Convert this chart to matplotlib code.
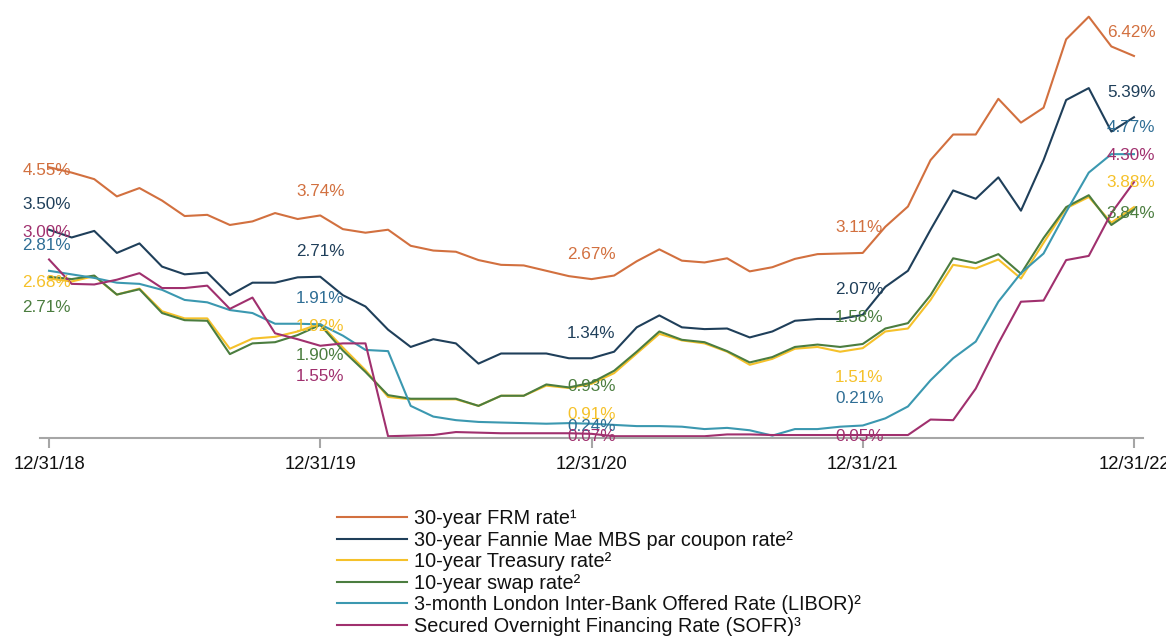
import matplotlib
matplotlib.use("Agg")
import matplotlib.pyplot as plt

plt.rcParams["font.family"] = ["Liberation Sans", "DejaVu Sans"]

# month-end values, 12/31/18 .. 12/31/22 (49 points)
frm = [4.55, 4.46, 4.35, 4.06, 4.20, 3.99, 3.73, 3.75, 3.58, 3.64, 3.78, 3.68, 3.74,
       3.51, 3.45, 3.50, 3.23, 3.15, 3.13, 2.99, 2.91, 2.90, 2.81, 2.72, 2.67,
       2.73, 2.97, 3.17, 2.98, 2.95, 3.02, 2.80, 2.87, 3.01, 3.09, 3.10, 3.11,
       3.55, 3.89, 4.67, 5.10, 5.10, 5.70, 5.30, 5.55, 6.70, 7.08, 6.58, 6.42]
mbs = [3.50, 3.37, 3.48, 3.11, 3.27, 2.88, 2.75, 2.78, 2.40, 2.61, 2.61, 2.70, 2.71,
       2.40, 2.21, 1.82, 1.53, 1.66, 1.59, 1.25, 1.42, 1.42, 1.42, 1.34, 1.34,
       1.45, 1.86, 2.06, 1.86, 1.83, 1.84, 1.69, 1.79, 1.97, 2.00, 2.00, 2.07,
       2.54, 2.81, 3.50, 4.16, 4.02, 4.38, 3.82, 4.67, 5.68, 5.88, 5.15, 5.39]
treasury = [2.68, 2.63, 2.72, 2.41, 2.51, 2.13, 2.01, 2.01, 1.50, 1.67, 1.70, 1.79, 1.92,
            1.52, 1.14, 0.69, 0.65, 0.65, 0.65, 0.54, 0.71, 0.71, 0.88, 0.84, 0.91,
            1.09, 1.42, 1.75, 1.64, 1.59, 1.45, 1.23, 1.33, 1.50, 1.53, 1.45, 1.51,
            1.79, 1.84, 2.32, 2.91, 2.85, 3.00, 2.68, 3.28, 3.86, 4.05, 3.62, 3.88]
swap = [2.71, 2.67, 2.73, 2.41, 2.50, 2.10, 1.98, 1.97, 1.41, 1.59, 1.61, 1.73, 1.90,
        1.47, 1.11, 0.72, 0.66, 0.66, 0.66, 0.54, 0.71, 0.71, 0.90, 0.85, 0.93,
        1.13, 1.45, 1.79, 1.65, 1.61, 1.46, 1.27, 1.36, 1.53, 1.57, 1.53, 1.58,
        1.84, 1.93, 2.40, 3.02, 2.94, 3.09, 2.76, 3.36, 3.88, 4.08, 3.58, 3.84]
libor = [2.81, 2.75, 2.69, 2.61, 2.59, 2.49, 2.32, 2.28, 2.15, 2.10, 1.92, 1.92, 1.91,
         1.72, 1.48, 1.46, 0.54, 0.36, 0.30, 0.27, 0.26, 0.25, 0.24, 0.25, 0.24,
         0.22, 0.20, 0.20, 0.19, 0.15, 0.17, 0.13, 0.04, 0.15, 0.15, 0.19, 0.21,
         0.33, 0.53, 0.97, 1.34, 1.62, 2.29, 2.77, 3.10, 3.80, 4.46, 4.77, 4.77]
sofr = [3.00, 2.59, 2.58, 2.66, 2.77, 2.52, 2.52, 2.56, 2.17, 2.36, 1.76, 1.66, 1.55,
        1.59, 1.59, 0.03, 0.04, 0.05, 0.10, 0.09, 0.08, 0.08, 0.08, 0.08, 0.07,
        0.03, 0.03, 0.03, 0.03, 0.03, 0.06, 0.06, 0.05, 0.05, 0.05, 0.05, 0.05,
        0.05, 0.05, 0.31, 0.30, 0.83, 1.59, 2.29, 2.31, 2.99, 3.06, 3.78, 4.30]

tick_labels = ["12/31/18", "12/31/19", "12/31/20", "12/31/21", "12/31/22"]
legend_labels = ["30-year FRM rate\u00b9",
                 "30-year Fannie Mae MBS par coupon rate\u00b2",
                 "10-year Treasury rate\u00b2",
                 "10-year swap rate\u00b2",
                 "3-month London Inter-Bank Offered Rate (LIBOR)\u00b2",
                 "Secured Overnight Financing Rate (SOFR)\u00b3"]

series = [frm, mbs, treasury, swap, libor, sofr]
line_colors = ["#d2703f", "#1f3f5a", "#f5c12a", "#4b7d3f", "#3b98b0", "#a0306e"]
text_colors = ["#d2703f", "#1f3f5a", "#f5c12a", "#4b7d3f", "#2f6e95", "#a0306e"]

# annotated points (month index) and where each label sits (y in % units)
label_idx = [0, 12, 24, 36, 48]
label_y = {
    0:  [4.49, 3.92, 2.61, 2.20, 3.23, 3.46],
    12: [4.15, 3.13, 1.87, 1.38, 2.35, 1.03],
    24: [3.09, 1.76, 0.40, 0.86, 0.20, 0.02],
    36: [3.53, 2.50, 1.01, 2.02, 0.66, 0.02],
    48: [6.82, 5.80, 4.30, 3.78, 5.21, 4.74],
}
label_x = {0: 0.97, 12: 12, 24: 24, 36: 35.85, 48: 46.8}
label_ha = {0: "right", 12: "center", 24: "center", 36: "center", 48: "left"}

fig = plt.figure(figsize=(11.66, 6.36), dpi=100)
ax = fig.add_axes([40 / 1166, 198 / 636, 1103 / 1166, 434.4 / 636])

x = list(range(len(frm)))
for vals, col, lab in zip(series, line_colors, legend_labels):
    ax.plot(x, vals, color=col, lw=1.5, label=lab)

for idx in label_idx:
    for k, vals in enumerate(series):
        ax.text(label_x[idx], label_y[idx][k], f"{vals[idx]:.2f}%",
                color=text_colors[k], fontsize=12.3, ha=label_ha[idx],
                va="center")

ax.set_xlim(-0.4, 48.4)
ax.set_ylim(0, 7.3)
ax.set_xticks([0, 12, 24, 36, 48])
ax.set_xticklabels(tick_labels)
ax.set_yticks([])
for s in ["left", "right", "top"]:
    ax.spines[s].set_visible(False)
ax.spines["bottom"].set_color("#a6a6a6")
ax.spines["bottom"].set_linewidth(1.5)
ax.tick_params(axis="x", length=7, width=1.5, color="#a6a6a6",
               labelsize=13.3, pad=6, labelcolor="#111111")

leg = fig.legend(loc="upper left", bbox_to_anchor=(337 / 1166, 1 - 509 / 636),
                 frameon=False, fontsize=14.3, handlelength=3.5,
                 handletextpad=0.4, labelspacing=0.13, borderaxespad=0,
                 borderpad=0)
for t in leg.get_texts():
    t.set_color("#111111")

fig.savefig("out.png", dpi=100)
